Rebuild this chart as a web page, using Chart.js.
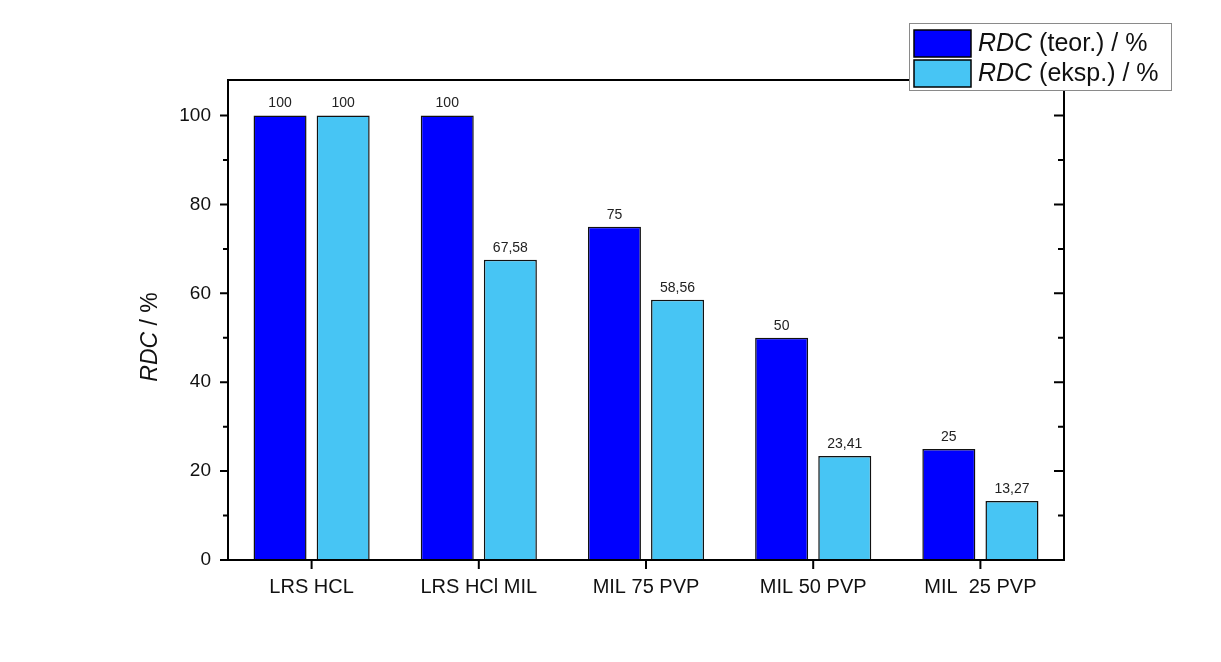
<!DOCTYPE html>
<html><head><meta charset="utf-8">
<script src="https://cdn.jsdelivr.net/npm/chart.js@4/dist/chart.umd.min.js"></script>
<style>html,body{margin:0;padding:0;background:#fff}#wrap{width:1221px;height:662px}</style>
</head><body><div id="wrap"><canvas id="c" width="1221" height="662"></canvas></div>
<script>
const categories = ["LRS HCL", "LRS HCl MIL", "MIL 75 PVP", "MIL 50 PVP", "MIL  25 PVP"];
const teorValues = [100, 100, 75, 50, 25];
const eksValues = [100, 67.58, 58.56, 23.41, 13.27];
const seriesNames = ["(teor.) / %", "(eksp.) / %"];
const yTicks = [0, 20, 40, 60, 80, 100];
const FONT = "'Liberation Sans', Arial, sans-serif";

function fmt(v){ return String(v).replace('.', ','); }

const framePlugin = {
  id: 'frame',
  afterDatasetsDraw(chart){
    const ctx = chart.ctx, a = chart.chartArea;
    const ys = chart.scales.y, xs = chart.scales.x;
    ctx.save();
    // data labels
    ctx.fillStyle = '#222';
    ctx.font = '14px ' + FONT;
    ctx.textAlign = 'center';
    ctx.textBaseline = 'bottom';
    chart.data.datasets.forEach((ds, di) => {
      chart.getDatasetMeta(di).data.forEach((el, i) => {
        ctx.fillText(fmt(ds.data[i]), el.x, el.y - 5);
      });
    });
    // frame
    ctx.strokeStyle = '#000';
    ctx.lineWidth = 2;
    ctx.strokeRect(a.left, a.top, a.right - a.left, a.bottom - a.top);
    // y ticks
    for (let v = 0; v <= 100; v += 10) {
      const y = ys.getPixelForValue(v);
      const major = v % 20 === 0;
      const L = major ? 8 : 5;
      ctx.beginPath();
      ctx.moveTo(a.left - L, y); ctx.lineTo(a.left, y);
      ctx.moveTo(a.right, y); ctx.lineTo(a.right - (major ? 10 : 6), y);
      ctx.stroke();
    }
    // x ticks
    categories.forEach((c, i) => {
      const x = xs.getPixelForValue(i);
      ctx.beginPath();
      ctx.moveTo(x, a.bottom); ctx.lineTo(x, a.bottom + 9);
      ctx.stroke();
    });
    // y title
    ctx.save();
    ctx.translate(151, 337);
    ctx.rotate(-Math.PI / 2);
    ctx.fillStyle = '#111';
    ctx.textBaseline = 'middle';
    ctx.textAlign = 'left';
    ctx.font = 'italic 23px ' + FONT;
    const t1 = 'RDC';
    const w1 = ctx.measureText(t1).width;
    ctx.font = '23px ' + FONT;
    const t2 = ' / %';
    const w2 = ctx.measureText(t2).width;
    let sx = -(w1 + w2) / 2;
    ctx.font = 'italic 23px ' + FONT;
    ctx.fillText(t1, sx, 0);
    ctx.font = '23px ' + FONT;
    ctx.fillText(t2, sx + w1, 0);
    ctx.restore();
    // legend
    const lx = 909, ly = 23, lw = 262, lh = 67;
    ctx.fillStyle = '#fff';
    ctx.fillRect(lx, ly, lw, lh);
    ctx.strokeStyle = '#8a8a8a';
    ctx.lineWidth = 1;
    ctx.strokeRect(lx + 0.5, ly + 0.5, lw, lh);
    chart.data.datasets.forEach((ds, di) => {
      const sy = 30 + di * 30;
      ctx.fillStyle = ds.backgroundColor;
      ctx.fillRect(914, sy, 57, 27);
      ctx.strokeStyle = '#000';
      ctx.lineWidth = 1.5;
      ctx.strokeRect(914, sy, 57, 27);
      ctx.fillStyle = '#111';
      ctx.textAlign = 'left';
      ctx.textBaseline = 'middle';
      ctx.font = 'italic 25px ' + FONT;
      ctx.fillText('RDC', 978, sy + 14);
      const w = ctx.measureText('RDC').width;
      ctx.font = '25px ' + FONT;
      ctx.fillText(' ' + seriesNames[di], 978 + w, sy + 14);
    });
    ctx.restore();
  }
};

new Chart(document.getElementById('c'), {
  type: 'bar',
  data: {
    labels: categories,
    datasets: [
      { label: 'RDC ' + seriesNames[0], data: teorValues, backgroundColor: '#0000FF', borderColor: '#111', borderWidth: 1.5, categoryPercentage: 0.755, barPercentage: 0.84 },
      { label: 'RDC ' + seriesNames[1], data: eksValues, backgroundColor: '#47C5F4', borderColor: '#111', borderWidth: 1.5, categoryPercentage: 0.755, barPercentage: 0.84 }
    ]
  },
  options: {
    responsive: false,
    animation: false,
    devicePixelRatio: 1,
    layout: { padding: { left: 0, right: 157, top: 80, bottom: 0 } },
    plugins: { legend: { display: false }, tooltip: { enabled: false } },
    scales: {
      x: {
        grid: { display: false, drawTicks: false },
        border: { display: false },
        ticks: { color: '#111', font: { family: FONT, size: 20 }, padding: 15, maxRotation: 0 },
        afterFit(s){ s.height = 102; }
      },
      y: {
        min: 0, max: 108,
        grid: { display: false, drawTicks: false },
        border: { display: false },
        ticks: { stepSize: 20, color: '#111', font: { family: FONT, size: 19 }, padding: 17 },
        afterBuildTicks(s){ s.ticks = yTicks.map(v => ({ value: v })); },
        afterFit(s){ s.width = 228; }
      }
    }
  },
  plugins: [framePlugin]
});
</script></body></html>
